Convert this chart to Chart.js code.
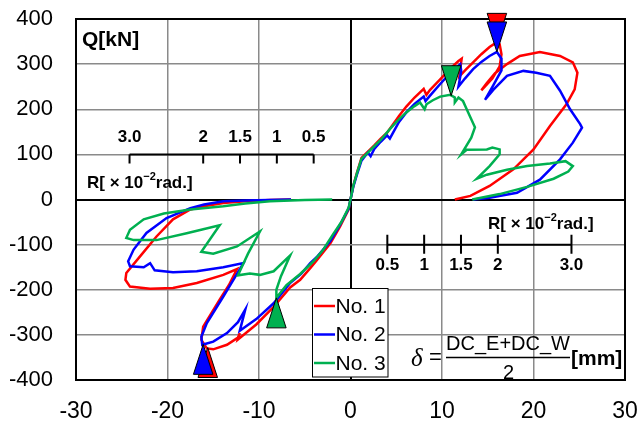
<!DOCTYPE html>
<html>
<head>
<meta charset="utf-8">
<script src="https://cdn.jsdelivr.net/npm/chart.js@4/dist/chart.umd.min.js"></script>
<style>
html, body { margin: 0; padding: 0; background: #fff; }
#wrap { width: 638px; height: 422px; }
</style>
</head>
<body>
<div id="wrap"><canvas id="loopChart" width="638" height="422"></canvas></div>
<script>
// Q-delta hysteresis loops, specimens No.1-3
const seriesNames = ['No. 1', 'No. 2', 'No. 3'];
const seriesColors = ['#ff0000', '#0000ff', '#00b050'];

// [delta mm, Q kN]; null = pen lifted
const no1Loop = [
    [0,0],[0.3,30],[0.7,59],[1.2,92],[1.9,106],[2.6,120],[3.3,135],[4.0,148],[4.6,165],[5.3,185],
    [6.1,206],[7.0,226],[8.0,245],[8.3,232],[8.7,243],[9.8,266],[10.9,290],[11.8,307],[12.15,312],
    [12.0,290],[11.9,273],[12.6,288],[13.4,304],[14.3,322],[15.2,338],[15.8,346],[16.3,344],
    [16.5,322],[16.3,295],[15.5,268],[14.3,242],[14.9,258],[15.8,280],[17.1,300],[18.5,318],
    [20.7,327],[22.9,318],[24.3,304],[24.8,281],[24.5,244],[23.6,211],[21.8,163],[20.0,111],
    [17.8,67],[15.2,30],[13.1,8],[11.4,0],
    null,
    [-6.5,0],[-8.8,-1],[-11.5,-4],[-13.9,-8],[-16.0,-15],[-17.5,-22],[-19.4,-44],[-21.2,-82],[-23.0,-126],
    [-24.5,-163],[-24.6,-178],[-24.1,-193],[-21.9,-198],[-19.4,-196],[-16.8,-185],[-13.9,-167],
    [-12.4,-154],[-13.3,-190],[-14.3,-222],[-15.3,-255],[-16.1,-282],[-16.3,-311],[-15.7,-330],
    [-15.0,-332],[-13.5,-322],[-12.3,-306],[-12.1,-296],[-12.3,-310],[-10.3,-277],[-8.4,-238],
    [-6.6,-195],[-5.5,-178],[-4.4,-152],[-3.7,-135],[-2.2,-97],[-1.15,-60],[-0.2,-22],[0,0]
];
const no2Loop = [
    [0,0],[0.3,28],[0.7,55],[1.2,86],[1.9,104],[2.2,96],[2.6,112],[3.3,128],[4.0,142],[4.3,135],
    [4.7,150],[5.3,172],[6.1,193],[7.0,212],[8.0,228],[8.2,218],[8.6,228],[9.8,256],[11.0,282],
    [12.0,300],[12.1,285],[11.8,250],[12.5,268],[13.4,289],[14.3,305],[15.2,318],[16.0,327],
    [16.5,312],[16.5,286],[15.6,253],[14.7,221],[15.6,243],[17.1,274],[18.9,285],[20.3,281],
    [21.8,274],[22.9,241],[24.0,200],[25.1,167],[25.3,159],[24.3,126],[22.9,89],[20.7,44],
    [18.2,15],[15.2,4],[13.4,0],
    null,
    [-6.5,0],[-9.0,-1],[-11.5,-2],[-13.9,-4],[-16.0,-11],[-17.5,-19],[-20.1,-41],[-22.3,-74],[-23.7,-111],
    [-24.3,-137],[-24.1,-148],[-22.6,-150],[-21.9,-141],[-21.4,-157],[-19.4,-161],[-16.8,-159],
    [-13.9,-150],[-11.7,-141],[-12.8,-178],[-13.9,-215],[-15.7,-274],[-16.3,-304],[-16.2,-322],
    [-15.0,-315],[-13.5,-296],[-12.3,-272],[-11.5,-244],[-12.1,-291],[-10.3,-265],[-8.4,-230],
    [-6.6,-185],[-5.4,-165],[-4.4,-141],[-3.7,-128],[-2.2,-92],[-1.15,-56],[-0.2,-20],[0,0]
];
const no3Loop = [
    [0,0],[0.3,30],[0.7,58],[1.2,90],[1.9,104],[2.6,118],[3.3,132],[4.3,156],[5.2,176],[6.1,193],
    [7.0,207],[7.6,215],[8.1,200],[8.3,211],[9.0,220],[9.8,228],[10.9,232],[11.4,226],[11.4,215],
    [11.8,226],[12.3,218],[12.7,200],[13.6,160],[13.2,137],[12.1,100],[12.7,110],[14.9,111],
    [15.5,115],[16.3,111],[16.3,100],[15.2,74],[13.8,46],[14.9,55],[17.1,66],[19.3,74],[21.8,80],
    [23.5,85],[24.3,74],[23.8,62],[22.2,46],[19.3,28],[16.3,12],[13.3,0],
    null,
    [-2.0,0],[-5.0,-1],[-8.8,-4],[-11.5,-9],[-13.9,-15],[-17.5,-22],[-20.4,-31],[-22.6,-44],[-24.1,-67],
    [-24.5,-85],[-23.7,-90],[-21.2,-90],[-17.9,-75],[-14.3,-57],[-16.3,-116],[-15.0,-120],
    [-12.4,-104],[-9.9,-71],[-11.2,-120],[-12.3,-168],[-11.0,-164],[-9.9,-167],[-8.4,-159],
    [-6.6,-124],[-7.6,-170],[-8.1,-200],[-8.1,-218],[-7.0,-190],[-5.5,-165],[-4.1,-138],
    [-3.0,-112],[-2.0,-80],[-1.0,-50],[-0.2,-18],[0,0]
];

// max strength markers [delta, Q]
const no1Peaks = [[16.0,346],[-15.6,-328]];
const no2Peaks = [[16.0,327],[-16.1,-321]];
const no3Peaks = [[11.0,230],[-8.1,-218]];

// drift angle scale (x10^-2 rad)
const driftTicks = [0.5, 1, 1.5, 2, 3];
const driftLabels = ['0.5', '1', '1.5', '2', '3.0'];
const deltaPerDrift = 8.05;

const xTicks = [-30, 30, 10];
const yTicks = [-400, 400, 100];

const FONT = '"Liberation Sans", Arial, sans-serif';
const toPts = arr => arr.map(p => p ? { x: p[0], y: p[1] } : { x: null, y: null });

function triangle(ctx, px, py, dir, color) {
    const w = 19.5, h = 30;
    ctx.beginPath();
    ctx.moveTo(px, py);
    ctx.lineTo(px - w / 2, py - dir * h);
    ctx.lineTo(px + w / 2, py - dir * h);
    ctx.closePath();
    ctx.fillStyle = color;
    ctx.fill();
    ctx.lineWidth = 1;
    ctx.strokeStyle = '#000';
    ctx.stroke();
}

function rTitle(ctx, left, cy) {
    ctx.textAlign = 'left';
    ctx.textBaseline = 'middle';
    ctx.fillStyle = '#000';
    ctx.font = 'bold 17px ' + FONT;
    let px = left;
    ctx.fillText('R[ \u00d7 10', px, cy);
    px += ctx.measureText('R[ \u00d7 10').width;
    ctx.font = 'bold 11px ' + FONT;
    ctx.fillText('\u22122', px, cy - 6);
    px += ctx.measureText('\u22122').width;
    ctx.font = 'bold 17px ' + FONT;
    ctx.fillText('rad.]', px, cy);
}

function driftScale(ctx, xs, ys, sign, q, tickUp, tickDown, labelDy) {
    const py = ys.getPixelForValue(q);
    const pts = driftTicks.map(r => xs.getPixelForValue(sign * r * deltaPerDrift));
    ctx.strokeStyle = '#000';
    ctx.lineWidth = 2;
    ctx.beginPath();
    ctx.moveTo(Math.min(...pts), py);
    ctx.lineTo(Math.max(...pts), py);
    pts.forEach(px => {
        ctx.moveTo(px, py - tickUp);
        ctx.lineTo(px, py + tickDown);
    });
    ctx.stroke();
    ctx.font = 'bold 17px ' + FONT;
    ctx.fillStyle = '#000';
    ctx.textAlign = 'center';
    ctx.textBaseline = 'middle';
    pts.forEach((px, i) => ctx.fillText(driftLabels[i], px, py + labelDy));
}

const overlay = {
    id: 'overlay',
    afterDatasetsDraw(chart) {
        const { ctx, chartArea: a, scales: { x, y } } = chart;
        ctx.save();

        // frame
        ctx.strokeStyle = '#000';
        ctx.lineWidth = 2;
        ctx.strokeRect(a.left, a.top, a.right - a.left, a.bottom - a.top);

        // markers
        [no1Peaks, no2Peaks, no3Peaks].forEach((peaks, i) => {
            peaks.forEach(([d, q]) => {
                triangle(ctx, x.getPixelForValue(d), y.getPixelForValue(q), q > 0 ? 1 : -1, seriesColors[i]);
            });
        });

        // drift scales
        driftScale(ctx, x, y, -1, 100, 0, 9, -17);
        driftScale(ctx, x, y, 1, -100, 10, 9, 21);
        rTitle(ctx, 87, 183);
        rTitle(ctx, 488, 224);

        // Q label
        ctx.font = 'bold 21px ' + FONT;
        ctx.textAlign = 'left';
        ctx.textBaseline = 'middle';
        ctx.fillText('Q[kN]', 82, 40);

        // delta formula
        ctx.font = 'italic 25px "Liberation Serif", "DejaVu Serif", serif';
        ctx.fillText('\u03b4', 411, 359);
        ctx.font = '22px ' + FONT;
        ctx.fillText('=', 429, 358);
        ctx.font = '20px ' + FONT;
        ctx.textAlign = 'center';
        ctx.fillText('DC_E+DC_W', 508, 344);
        ctx.fillText('2', 508.5, 373);
        ctx.lineWidth = 1.5;
        ctx.beginPath();
        ctx.moveTo(446, 357.5);
        ctx.lineTo(570, 357.5);
        ctx.stroke();
        ctx.font = 'bold 21px ' + FONT;
        ctx.textAlign = 'left';
        ctx.fillText('[mm]', 571, 359);

        // legend
        ctx.fillStyle = '#fff';
        ctx.fillRect(312.5, 288.5, 75.5, 88.5);
        ctx.strokeStyle = '#000';
        ctx.lineWidth = 1;
        ctx.strokeRect(312.5, 288.5, 75.5, 88.5);
        const rows = [306, 334.5, 363];
        seriesNames.forEach((name, i) => {
            ctx.strokeStyle = seriesColors[i];
            ctx.lineWidth = 2.5;
            ctx.beginPath();
            ctx.moveTo(314, rows[i]);
            ctx.lineTo(335, rows[i]);
            ctx.stroke();
            ctx.fillStyle = '#000';
            ctx.font = '21px ' + FONT;
            ctx.textAlign = 'left';
            ctx.textBaseline = 'middle';
            ctx.fillText(name, 335.5, rows[i] + 1);
        });

        ctx.restore();
    }
};

const gridColor = c => c.tick && c.tick.value === 0 ? '#000' : '#8a8a8a';
const gridWidth = c => c.tick && c.tick.value === 0 ? 2 : 1.5;

new Chart(document.getElementById('loopChart'), {
    type: 'scatter',
    data: {
        datasets: [no1Loop, no2Loop, no3Loop].map((loop, i) => ({
            label: seriesNames[i],
            data: toPts(loop),
            showLine: true,
            borderColor: seriesColors[i],
            backgroundColor: seriesColors[i],
            borderWidth: 2.5,
            pointRadius: 0,
            tension: 0,
            order: 3 - i
        }))
    },
    options: {
        responsive: false,
        animation: false,
        events: [],
        layout: { padding: { top: 19, right: 13, left: 0, bottom: 0 } },
        plugins: { legend: { display: false }, tooltip: { enabled: false } },
        scales: {
            x: {
                type: 'linear',
                min: xTicks[0], max: xTicks[1],
                ticks: { stepSize: xTicks[2], color: '#000', font: { family: FONT, size: 23 }, padding: 18 },
                grid: { color: gridColor, lineWidth: gridWidth, drawTicks: false },
                border: { display: false },
                afterFit: s => { s.height = 42; s.paddingLeft = 0; s.paddingRight = 0; }
            },
            y: {
                type: 'linear',
                min: yTicks[0], max: yTicks[1],
                ticks: { stepSize: yTicks[2], color: '#000', font: { family: FONT, size: 22 }, padding: 23 },
                grid: { color: gridColor, lineWidth: gridWidth, drawTicks: false },
                border: { display: false },
                afterFit: s => { s.width = 76; s.paddingTop = 0; s.paddingBottom = 0; }
            }
        }
    },
    plugins: [overlay]
});
</script>
</body>
</html>
